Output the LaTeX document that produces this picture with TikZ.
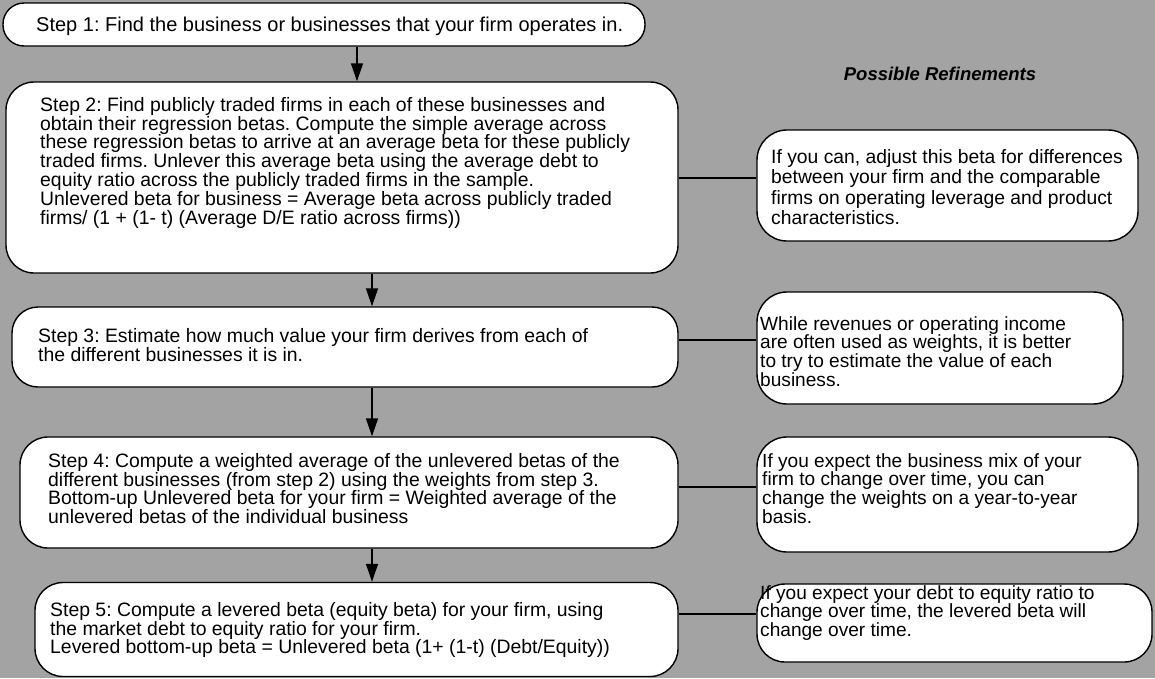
\documentclass[tikz,border=0pt]{standalone}
\usepackage{fontspec}
\setmainfont{Liberation Sans}
\usetikzlibrary{arrows.meta}
\definecolor{bg}{HTML}{A3A3A3}
\frenchspacing
\begin{document}
\begin{tikzpicture}[x=1pt,y=-1pt,
  box/.style={draw=black, line width=1.4pt, fill=white, rounded corners=#1, inner sep=0pt},
  box/.default=26pt,
  txt/.style={anchor=north west, inner sep=0pt, align=left, font=\fontsize{19.1}{18.7}\selectfont},
  steptxt/.style={txt, font=\fontsize{19.4}{18.8}\selectfont},
  link/.style={line width=1.4pt},
  arr/.style={line width=1.4pt, -{Triangle[length=18pt,width=12pt]}}]
\fill[bg] (0,0) rectangle (1155,678);
\useasboundingbox (0,0) rectangle (1155,678);
% step boxes
\node[box=21pt, minimum width=642pt, minimum height=43pt] (s1) at (324,24.5) {};
\node[box=28pt, minimum width=672pt, minimum height=191pt] (s2) at (342,177.5) {};
\node[box=26pt, minimum width=666pt, minimum height=80pt] (s3) at (345,347) {};
\node[box=28pt, minimum width=658pt, minimum height=111pt] (s4) at (349,492.5) {};
\node[box=28pt, minimum width=643pt, minimum height=94pt] (s5) at (356.5,629.5) {};
% refinement boxes
\node[box=30pt, minimum width=381pt, minimum height=111pt] (r1) at (947.5,185.5) {};
\node[box=30pt, minimum width=366pt, minimum height=112pt] (r2) at (940,348) {};
\node[box=30pt, minimum width=381pt, minimum height=115pt] (r3) at (947.5,494.5) {};
\node[box=28pt, minimum width=395pt, minimum height=78pt] (r4) at (954.5,623) {};
% connectors
\draw[arr] (s1.south -| 357,0) -- (s2.north -| 357,0);
\draw[arr] (s2.south -| 372,0) -- (s3.north -| 372,0);
\draw[arr] (s3.south -| 372,0) -- (s4.north -| 372,0);
\draw[arr] (s4.south -| 372,0) -- (s5.north -| 372,0);
\draw[link] (s2.east |- 0,178) -- (r1.west |- 0,178);
\draw[link] (s3.east |- 0,340) -- (r2.west |- 0,340);
\draw[link] (s4.east |- 0,487) -- (r3.west |- 0,487);
\draw[link] (s5.east |- 0,614) -- (r4.west |- 0,614);
% texts
\node[txt, font=\fontsize{20}{20}\selectfont] (t1) at (36,17) {Step 1: Find the business or businesses that your firm operates in.};
\node[steptxt] (t2) at (40,97) {Step 2: Find publicly traded firms in each of these businesses and\\
obtain their regression betas. Compute the simple average across\\
these regression betas to arrive at an average beta for these publicly\\
traded firms. Unlever this average beta using the average debt to\\
equity ratio across the publicly traded firms in the sample.\\
Unlevered beta for business = Average beta across publicly traded\\
firms/ (1 + (1- t) (Average D/E ratio across firms))};
\node[steptxt] (t3) at (38,328) {Step 3: Estimate how much value your firm derives from each of\\
the different businesses it is in.};
\node[steptxt] (t4) at (48,453) {Step 4: Compute a weighted average of the unlevered betas of the\\
different businesses (from step 2) using the weights from step 3.\\
Bottom-up Unlevered beta for your firm = Weighted average of the\\
unlevered betas of the individual business};
\node[steptxt] (t5) at (50,602) {Step 5: Compute a levered beta (equity beta) for your firm, using\\
the market debt to equity ratio for your firm.\\
Levered bottom-up beta = Unlevered beta (1+ (1-t) (Debt/Equity))};
\node[txt, font=\fontsize{19.3}{20.5}\selectfont] (u1) at (771,149) {If you can, adjust this beta for differences\\
between your firm and the comparable\\
firms on operating leverage and product\\
characteristics.};
\node[txt] (u2) at (760,316) {While revenues or operating income\\
are often used as weights, it is better\\
to try to estimate the value of each\\
business.};
\node[txt] (u3) at (762,453) {If you expect the business mix of your\\
firm to change over time, you can\\
change the weights on a year-to-year\\
basis.};
\node[txt, font=\fontsize{19.1}{17.8}\selectfont] (u4) at (760,585) {If you expect your debt to equity ratio to\\
change over time, the levered beta will\\
change over time.};
\node[font=\fontsize{18.5}{18.5}\selectfont\bfseries\itshape, inner sep=0pt] (title) at (940,74) {Possible Refinements};
\end{tikzpicture}
\end{document}
